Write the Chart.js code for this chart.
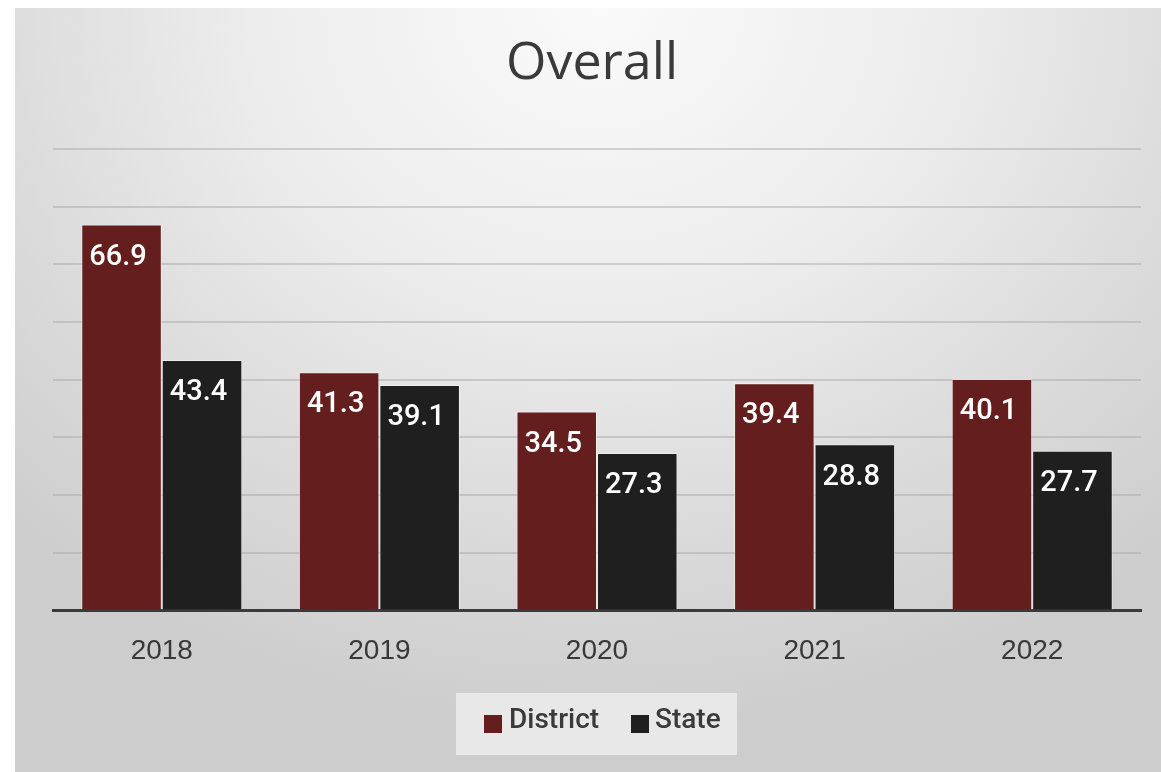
<!DOCTYPE html>
<html>
<head>
<meta charset="utf-8">
<script src="https://cdn.jsdelivr.net/npm/chart.js@4"></script>
<style>
  html, body { margin: 0; padding: 0; background: #fff; }
  #frame {
    position: absolute; left: 15px; top: 8px; width: 1146px; height: 764px;
    background: radial-gradient(ellipse 75% 95% at 51% 0%, #fafafa 0%, #ededed 40%, #dcdcdc 70%, #cdcdcd 100%);
  }
  #wrap { position: absolute; left: 0; top: 0; width: 1161px; height: 772px; }
</style>
</head>
<body>
<div id="frame"></div>
<div id="wrap"><canvas id="chart1"></canvas></div>
<script>
// years along the bottom
let years = ['2018', '2019', '2020', '2021', '2022'];

// the two series
let district = [66.9, 41.3, 34.5, 39.4, 40.1];
let state = [43.4, 39.1, 27.3, 28.8, 27.7];

let districtColor = '#641e1e';
let stateColor = '#1f1f1f';

// title + value labels + legend box are drawn by hand
let extras = {
  id: 'extras',
  afterDatasetsDraw(chart) {
    let ctx = chart.ctx;
    ctx.save();
    ctx.fillStyle = '#ffffff';
    ctx.font = '500 29px Roboto, sans-serif';
    ctx.textBaseline = 'middle';
    ctx.textAlign = 'left';
    chart.data.datasets.forEach((ds, i) => {
      chart.getDatasetMeta(i).data.forEach((bar, j) => {
        ctx.fillText(ds.data[j].toFixed(1), bar.x - bar.width / 2 + 8, bar.y + 33);
      });
    });
    ctx.restore();
  },
  afterDraw(chart) {
    let ctx = chart.ctx;
    ctx.save();
    // title
    ctx.fillStyle = '#3a3a3a';
    ctx.font = '500 52px "Open Sans", sans-serif';
    ctx.textAlign = 'center';
    ctx.textBaseline = 'middle';
    ctx.fillText('Overall', 592, 64);

    // legend
    ctx.fillStyle = 'rgba(236,236,236,0.85)';
    ctx.fillRect(456, 693, 281, 62);
    ctx.font = '500 28px Roboto, sans-serif';
    ctx.textAlign = 'left';
    ctx.fillStyle = districtColor;
    ctx.fillRect(484, 715, 18, 18);
    ctx.fillStyle = stateColor;
    ctx.fillRect(631, 715, 18, 18);
    ctx.fillStyle = '#3a3a3a';
    ctx.fillText('District', 509, 721);
    ctx.fillText('State', 655, 721);
    ctx.restore();
  }
};

let options = {
  type: 'bar',
  data: {
    labels: years,
    datasets: [
      {
        label: 'District',
        data: district,
        backgroundColor: districtColor,
        borderColor: 'rgba(255,255,255,0.45)',
        borderWidth: 1
      },
      {
        label: 'State',
        data: state,
        backgroundColor: stateColor,
        borderColor: 'rgba(255,255,255,0.45)',
        borderWidth: 1
      }
    ]
  },
  options: {
    responsive: false,
    animation: false,
    layout: { padding: { left: 53, right: 20, top: 149, bottom: 80 } },
    categoryPercentage: 0.74,
    barPercentage: 1,
    plugins: {
      legend: { display: false },
      title: { display: false },
      tooltip: { enabled: false }
    },
    scales: {
      x: {
        grid: { display: false, drawTicks: false },
        border: { display: true, color: '#3a3a3a', width: 3 },
        ticks: {
          color: '#383838',
          padding: 24,
          font: { family: '"Liberation Sans", Arial, sans-serif', size: 28 }
        }
      },
      y: {
        min: 0,
        max: 80,
        ticks: { display: false, stepSize: 10 },
        grid: { color: 'rgba(165,165,165,0.45)', lineWidth: 2, drawTicks: false },
        border: { display: false }
      }
    }
  },
  plugins: [extras]
};

let canvas = document.getElementById('chart1');
canvas.width = 1161;
canvas.height = 772;
let chart = new Chart(canvas, options);
</script>
</body>
</html>
